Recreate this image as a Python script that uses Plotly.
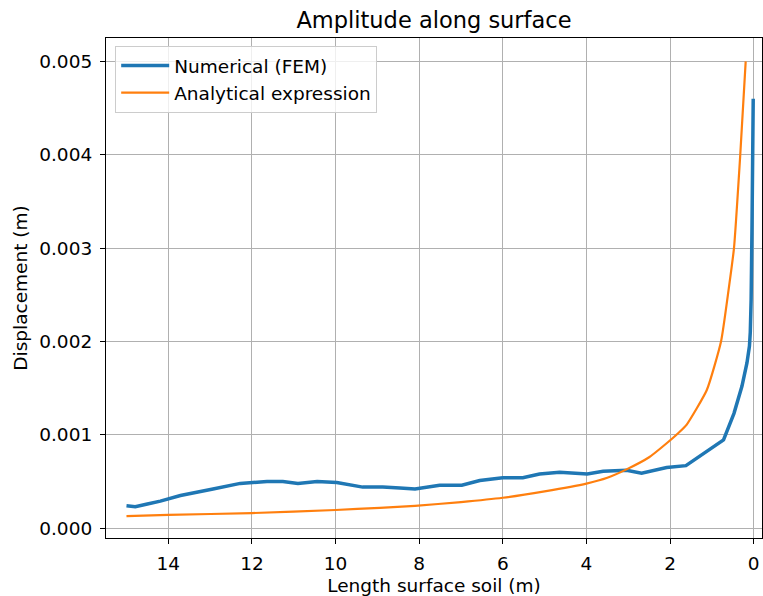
import plotly.graph_objects as go

# Numerical (FEM) series
fem_x = [15.0, 14.79, 14.5, 14.19, 13.71, 13.3, 12.93, 12.28, 11.64, 11.26, 10.9, 10.44,
         9.97, 9.35, 8.87, 8.46, 8.1, 7.51, 6.98, 6.55, 6.0, 5.52, 5.12, 4.64, 4.33,
         3.98, 3.6, 3.24, 3.04, 2.68, 2.08, 1.62, 0.72, 0.47, 0.28, 0.16, 0.10,
         0.08, 0.06, 0.04, 0.01]
fem_y = [0.00024, 0.00023, 0.00026, 0.00029, 0.00035, 0.00039, 0.00042, 0.00048, 0.00050,
         0.00050, 0.00048, 0.00050, 0.00049, 0.00044, 0.00044, 0.00043, 0.00042, 0.00046,
         0.00046, 0.00051, 0.00054, 0.00054, 0.00058, 0.00060, 0.00059, 0.00058, 0.00061,
         0.00062, 0.00062, 0.00059, 0.00065, 0.00067, 0.000945, 0.00123, 0.00152, 0.00177,
         0.00195, 0.0021, 0.00245, 0.0032, 0.0046]

# Analytical expression series
ana_x = [15.0, 14.0, 12.0, 10.0, 8.94, 8.1, 7.0, 6.0, 5.0, 4.0, 3.5, 3.04, 2.5, 2.08,
         1.80, 1.6, 1.12, 0.78, 0.60, 0.47, 0.32, 0.19]
ana_y = [0.00013, 0.000142, 0.000162, 0.000195, 0.000218, 0.00024, 0.00028, 0.000326,
         0.000395, 0.000478, 0.00054, 0.00063, 0.00076, 0.00091, 0.00102, 0.00111,
         0.00148, 0.0020, 0.00255, 0.0030, 0.0040, 0.0050]

x_ticks = [14, 12, 10, 8, 6, 4, 2, 0]
y_ticks = [0.000, 0.001, 0.002, 0.003, 0.004, 0.005]

FONT = "DejaVu Sans"
FS = 18.5

fig = go.Figure()
fig.add_trace(go.Scatter(x=fem_x, y=fem_y, mode="lines", name="Numerical (FEM)",
                         line=dict(color="#1f77b4", width=3.5)))
fig.add_trace(go.Scatter(x=ana_x, y=ana_y, mode="lines", name="Analytical expression",
                         line=dict(color="#ff7f0e", width=2.2, shape="spline",
                                   smoothing=0.5)))

axis_common = dict(showline=True, mirror=True, linecolor="black", linewidth=1.2,
                   showgrid=True, gridcolor="#b0b0b0", gridwidth=1,
                   ticks="outside", ticklen=5, tickcolor="black",
                   ticklabelstandoff=4,
                   tickfont=dict(family=FONT, size=FS, color="black"),
                   zeroline=False)

fig.update_layout(
    width=763, height=596,
    margin=dict(l=106, r=1, t=38, b=58),
    paper_bgcolor="white", plot_bgcolor="white",
    font=dict(family=FONT, color="black"),
    title=dict(text="Amplitude along surface", x=0.5, xref="paper", xanchor="center",
               y=1 - 20 / 596, yanchor="middle",
               font=dict(family=FONT, size=22.5, color="black")),
    xaxis=dict(range=[15.49, -0.2], tickvals=x_ticks, ticktext=[str(v) for v in x_ticks],
               title=dict(text="Length surface soil (m)", font=dict(family=FONT, size=FS),
                          standoff=6),
               **axis_common),
    yaxis=dict(range=[-0.000105, 0.00525], tickvals=y_ticks,
               ticktext=[f"{v:.3f}" for v in y_ticks],
               title=dict(text="Displacement (m)", font=dict(family=FONT, size=FS),
                          standoff=6),
               **axis_common),
    legend=dict(x=0.014, y=0.984, xanchor="left", yanchor="top",
                bgcolor="rgba(255,255,255,0.8)", bordercolor="#cccccc", borderwidth=1,
                font=dict(family=FONT, size=FS, color="black"),
                itemwidth=48, tracegroupgap=0),
    showlegend=True,
)

fig.write_html("out.html")
